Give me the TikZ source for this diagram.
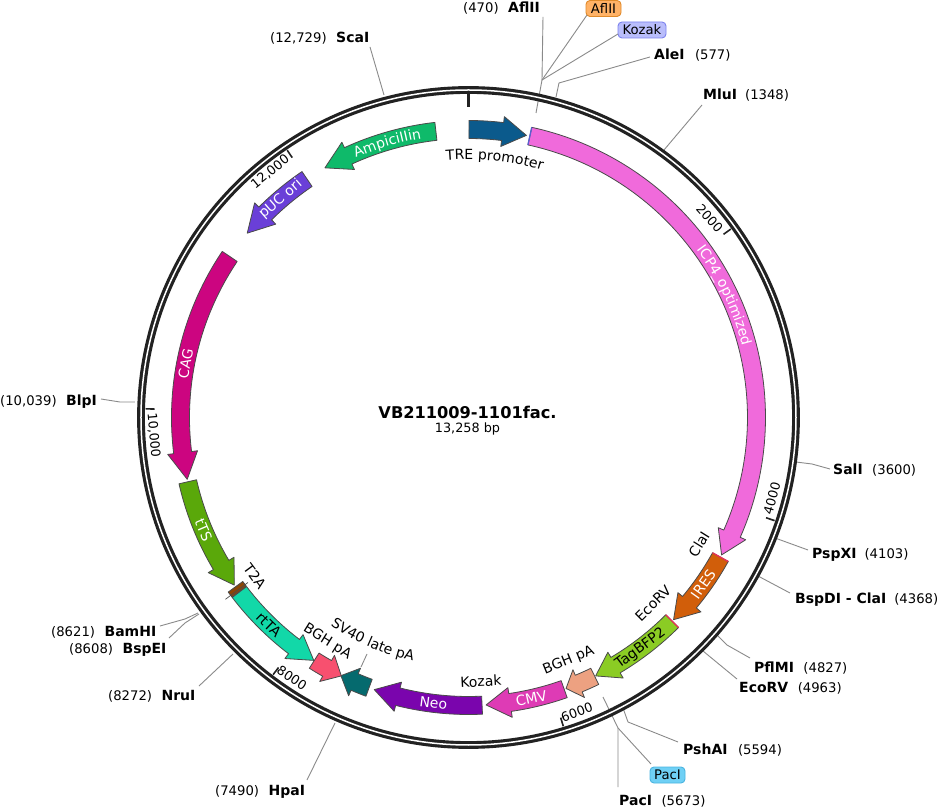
\documentclass[tikz,border=0pt]{standalone}
\usepackage{fontspec}
\setmainfont{DejaVu Sans}
\usetikzlibrary{decorations.text}
\definecolor{ringc}{HTML}{222222}
\definecolor{leadc}{HTML}{8A8A8A}
\definecolor{edgec}{HTML}{4A4A4A}
\definecolor{cTRE}{HTML}{0B5A8C}
\definecolor{cICP}{HTML}{F06ADB}
\definecolor{cIRES}{HTML}{D15E0A}
\definecolor{cTag}{HTML}{8BCC24}
\definecolor{cBGHa}{HTML}{EDA181}
\definecolor{cCMV}{HTML}{DE3BB5}
\definecolor{cNeo}{HTML}{7A05AD}
\definecolor{cSV}{HTML}{056A6E}
\definecolor{cBGHb}{HTML}{F7506F}
\definecolor{crtTA}{HTML}{12D8A8}
\definecolor{cT2A}{HTML}{8C4505}
\definecolor{ctTS}{HTML}{5AA80A}
\definecolor{cCAG}{HTML}{CC0580}
\definecolor{cPUC}{HTML}{6A3FD8}
\definecolor{cAmp}{HTML}{0FBA6A}
\definecolor{cMark}{HTML}{E8305A}
\definecolor{cBlueMark}{HTML}{5A5FD0}
\definecolor{flagOF}{HTML}{FFB266}
\definecolor{flagOD}{HTML}{E08A2A}
\definecolor{flagKF}{HTML}{B9BDFB}
\definecolor{flagKD}{HTML}{7C82EE}
\definecolor{flagPF}{HTML}{6FD0F5}
\definecolor{flagPD}{HTML}{4AB4E0}
\newcommand{\lblfont}{\fontsize{13.2}{15}\selectfont}
\newcommand{\tickfont}{\fontsize{12.8}{14}\selectfont}
\newcommand{\bandfont}{\fontsize{14}{16}\selectfont}
\newcommand{\enzb}[1]{{\fontsize{14}{15}\selectfont\bfseries #1}}
\tikzset{
  enzlbl/.style={font=\lblfont,inner sep=0pt,anchor=west},
  leader/.style={draw=leadc,line width=0.9pt},
  tickmark/.style={draw=ringc,line width=1.6pt},
  ticklbl/.style={font=\tickfont,inner sep=0pt,text=black},
  bandlbl/.style={font=\bandfont,inner sep=0pt},
  featbody/.style={draw=edgec,line width=0.8pt,line join=round},
  siteflag/.style={rounded corners=4pt,line width=0.9pt,font=\lblfont,inner sep=0pt,minimum height=16pt},
}
% fill colour, start angle, head base angle, tip angle (clockwise from top)
\newcommand{\feature}[4]{%
  \draw[featbody,fill=#1] ({90-#2}:279) arc[start angle={90-#2},end angle={90-#3},radius=279pt]
    -- ({90-#3}:273) -- ({90-#4}:288) -- ({90-#3}:303) -- ({90-#3}:297)
    arc[start angle={90-#3},end angle={90-#2},radius=297pt] -- cycle;}
% colour, centre angle, half span, baseline radius, text: clockwise (text top outward)
\newcommand{\curvecw}[5]{%
  \path[decorate,decoration={text along path,text align=center,text={|\bandfont\color{#1}|#5}}]
    ({90-#2+#3}:#4) arc[start angle={90-#2+#3},end angle={90-#2-#3},radius=#4pt];}
% same, counter-clockwise (text top inward)
\newcommand{\curveccw}[5]{%
  \path[decorate,decoration={text along path,text align=center,text={|\bandfont\color{#1}|#5}}]
    ({90-#2-#3}:#4) arc[start angle={90-#2-#3},end angle={90-#2+#3},radius=#4pt];}
\newcommand{\bandtext}[6]{% name, colour, angle, radius, rotation, text
  \node[bandlbl,text=#2,rotate=#5] (#1) at ({90-#3}:#4) {#6};}
\newcommand{\enzgap}{\hspace{9.5pt}}
\begin{document}
\begin{tikzpicture}[x=1pt,y=1pt]
\useasboundingbox (-468.5,-390.5) rectangle (471.5,417.5);
\fill[white] (-468.5,-390.5) rectangle (471.5,417.5);

% pixel-coordinate scope for the restriction labels
\begin{scope}[shift={(-468.5pt,417.5pt)},y=-1pt]
  \node[enzlbl] (ScaI) at (270,38) {(12,729)\enzgap\enzb{ScaI}};
  \node[enzlbl] (AflIIa) at (463,8.5) {(470)\enzgap\enzb{AflII}};
  \node[enzlbl] (AleI) at (654,55) {\enzb{AleI}\hspace{10.5pt}(577)};
  \node[enzlbl] (MluI) at (703,95) {\enzb{MluI}\hspace{8pt}(1348)};
  \node[enzlbl] (SalI) at (833,470) {\enzb{SalI}\enzgap(3600)};
  \node[enzlbl] (PspXI) at (812,555) {\enzb{PspXI}\hspace{8pt}(4103)};
  \node[enzlbl] (BspDI) at (795,600) {\enzb{BspDI - ClaI}\hspace{8pt}(4368)};
  \node[enzlbl] (PflMI) at (754,668) {\enzb{PflMI}\enzgap(4827)};
  \node[enzlbl] (EcoRV) at (739,688) {\enzb{EcoRV}\enzgap(4963)};
  \node[enzlbl] (PshAI) at (683,750) {\enzb{PshAI}\hspace{10.5pt}(5594)};
  \node[enzlbl] (PacIa) at (619,801) {\enzb{PacI}\enzgap(5673)};
  \node[enzlbl] (HpaI) at (215,792) {(7490)\enzgap\enzb{HpaI}};
  \node[enzlbl] (NruI) at (108,696) {(8272)\enzgap\enzb{NruI}};
  \node[enzlbl] (BspEI) at (69,650) {(8608)\enzgap\enzb{BspEI}};
  \node[enzlbl] (BamHI) at (51,632) {(8621)\enzgap\enzb{BamHI}};
  \node[enzlbl] (BlpI) at (0,402) {(10,039)\enzgap\enzb{BlpI}};

  \node[siteflag,draw=flagOD,fill=flagOF,minimum width=35pt] (AflIIb) at (603.5,8.5) {AflII};
  \node[siteflag,draw=flagKD,fill=flagKF,minimum width=48pt] (Kozakb) at (642,30) {Kozak};
  \node[siteflag,draw=flagPD,fill=flagPF,minimum width=35pt] (PacIb) at (667.5,775) {PacI};

  % leader points
  \coordinate (lSca1) at (370,47); \coordinate (lSca2) at (384,95);
  \coordinate (lAfl1) at (543,17); \coordinate (lAfl2) at (542,80); \coordinate (lAfl3) at (536,113);
  \coordinate (lBox1) at (587,15); \coordinate (lKoz1) at (618,34);
  \coordinate (lAle1) at (650,57); \coordinate (lAle2) at (559,83); \coordinate (lAle3) at (556,97);
  \coordinate (lMlu1) at (702,105); \coordinate (lMlu2) at (664,150);
  \coordinate (lSal1) at (830,469); \coordinate (lSal2) at (812,464); \coordinate (lSal3) at (796,462);
  \coordinate (lPsp1) at (808,550); \coordinate (lPsp2) at (775,538);
  \coordinate (lBsp1) at (790,593); \coordinate (lBsp2) at (758,576);
  \coordinate (lPfl1) at (750,658); \coordinate (lPfl2) at (727,645); \coordinate (lPfl3) at (717,635);
  \coordinate (lEco1) at (737,679); \coordinate (lEco2) at (703,651);
  \coordinate (lPsh1) at (678,742); \coordinate (lPsh2) at (628,722); \coordinate (lPsh3) at (623,708);
  \coordinate (lPac1) at (618,787); \coordinate (lPac2) at (618,728); \coordinate (lPac3) at (603,697);
  \coordinate (lPacb) at (651,764);
  \coordinate (lHpa1) at (307,780); \coordinate (lHpa2) at (335,723);
  \coordinate (lNru1) at (199,686); \coordinate (lNru2) at (233,654);
  \coordinate (lBam1) at (160,626); \coordinate (lBam2) at (185,619); \coordinate (lBam3) at (198,613);
  \coordinate (lBsE1) at (169,638); \coordinate (lBsE2) at (185,623); \coordinate (lBsE3) at (199,614);
  \coordinate (lBlp1) at (101,399); \coordinate (lBlp2) at (120,402); \coordinate (lBlp3) at (135,402);
  \coordinate (lSVa) at (361,667); \coordinate (lSVb) at (367,654);

  \draw[leader] (lSca1) -- (lSca2);
  \draw[leader] (lAfl1) -- (lAfl2) -- (lAfl3);
  \draw[leader] (lBox1) -- (lAfl2);
  \draw[leader] (lKoz1) -- (lAfl2);
  \draw[leader] (lAle1) -- (lAle2) -- (lAle3);
  \draw[leader] (lMlu1) -- (lMlu2);
  \draw[leader] (lSal1) -- (lSal2) -- (lSal3);
  \draw[leader] (lPsp1) -- (lPsp2);
  \draw[leader] (lBsp1) -- (lBsp2);
  \draw[leader] (lPfl1) -- (lPfl2) -- (lPfl3);
  \draw[leader] (lEco1) -- (lEco2);
  \draw[leader] (lPsh1) -- (lPsh2) -- (lPsh3);
  \draw[leader] (lPac1) -- (lPac2) -- (lPac3);
  \draw[leader] (lPacb) -- (lPac2);
  \draw[leader] (lHpa1) -- (lHpa2);
  \draw[leader] (lNru1) -- (lNru2);
  \draw[leader] (lBam1) -- (lBam2) -- (lBam3);
  \draw[leader] (lBsE1) -- (lBsE2) -- (lBsE3);
  \draw[leader] (lBlp1) -- (lBlp2) -- (lBlp3);
  \draw[leader] (lSVa) -- (lSVb);
\end{scope}

% backbone
\draw[ringc,line width=7.8pt] (0,0) circle[radius=327.5pt];
\draw[white,line width=1.5pt] (0,0) circle[radius=327.5pt];

% ticks
\draw[draw=ringc,line width=2.6pt] (90:310.5) -- (90:324);
\foreach \a in {54.31,108.62,162.93,217.23,271.54,325.85}
  \draw[tickmark] ({90-\a}:314) -- ({90-\a}:323);
\node[ticklbl,rotate=-48] (t2000) at ({90-50.4}:313) {2000};
\node[ticklbl,rotate=75] (t4000) at ({90-104.9}:314) {4000};
\node[ticklbl,rotate=20] (t6000) at ({90-159.8}:314) {6000};
\node[ticklbl,rotate=-34] (t8000) at ({90-214.1}:314.7) {8000};
\node[ticklbl,rotate=-85] (t10000) at ({90-266.8}:315.5) {10,000};
\node[ticklbl,rotate=39] (t12000) at ({90-321.1}:315.7) {12,000};

% features
\feature{cTRE}{0.1}{6.8}{11.6}
\feature{cICP}{12.3}{113.8}{118.5}
\feature{cIRES}{119}{129.9}{134.6}
\feature{cTag}{135}{149.3}{153.8}
\feature{cBGHa}{154}{157.5}{160.2}
\feature{cCMV}{160.6}{171.7}{176.5}
\feature{cNeo}{177.3}{194.2}{199.1}
\feature{cSV}{200.2}{203.3}{206.3}
\feature{cBGHb}{212.4}{209.4}{206.2}
\feature{crtTA}{232.7}{217.3}{212.5}
\draw[featbody,fill=cT2A] ({90-232.8}:279) arc[start angle={90-232.8},end angle={90-234},radius=279pt]
  -- ({90-234}:297) arc[start angle={90-234},end angle={90-232.8},radius=297pt] -- cycle;
\draw[draw=edgec,line width=0.7pt] ({90-233.2}:275.5) -- ({90-233.2}:303.5);
\feature{ctTS}{257.1}{239.2}{234.4}
\feature{cCAG}{304}{263}{257.6}
\feature{cPUC}{325.9}{315.1}{309.8}
\feature{cAmp}{353.5}{335.3}{330.1}

% thin site marks on the feature ends
\draw[draw=cBlueMark,line width=1.3pt] ({90-12.3}:279) -- ({90-12.3}:297);
\draw[draw=cMark,line width=1.3pt] ({90-119}:279) -- ({90-119}:297);
\draw[draw=cMark,line width=1.3pt] ({90-135}:279) -- ({90-135}:297);

% labels on bands
\curvecw{white}{64.5}{24}{283}{ICP4{\_}optimized}
\curvecw{white}{343.5}{14}{283}{AmpiciIIin}
\bandtext{tPUC}{white}{319.3}{288}{40.7}{pUC ori}
\bandtext{tCAG}{white}{280.8}{288}{79.2}{CAG}
\bandtext{ttTS}{white}{246.9}{288}{-67}{tTS}
\bandtext{trtTA}{black}{223.9}{288}{-44}{rtTA}
\bandtext{tNeo}{white}{187}{288}{-7}{Neo}
\bandtext{tCMV}{white}{167.4}{288}{12.6}{CMV}
\bandtext{tTag}{black}{143.3}{288}{36.7}{TagBFP2}
\bandtext{tIRES}{white}{125.4}{288}{54.6}{IRES}

% labels beside bands
\curvecw{black}{5.8}{16}{258}{TRE promoter}
\curveccw{black}{203.2}{16}{250}{SV40 late pA}
\bandtext{tClaI}{black}{118.8}{263}{58}{ClaI}
\bandtext{tEcoRV}{black}{135.2}{262}{45}{EcoRV}
\bandtext{tBGHa}{black}{157.6}{263}{22}{BGH pA}
\bandtext{tKozak}{black}{177.3}{264}{3}{Kozak}
\bandtext{tT2A}{black}{233.4}{266}{-53.4}{T2A}
\bandtext{tBGHb}{black}{212.2}{265}{-32}{BGH pA}

% centre
\node[font=\fontsize{16.2}{18}\selectfont\bfseries,inner sep=0pt] (title) at (-1,5.5) {VB211009-1101fac.};
\node[font=\tickfont,inner sep=0pt] (size) at (-1,-11) {13,258 bp};
\end{tikzpicture}
\end{document}
